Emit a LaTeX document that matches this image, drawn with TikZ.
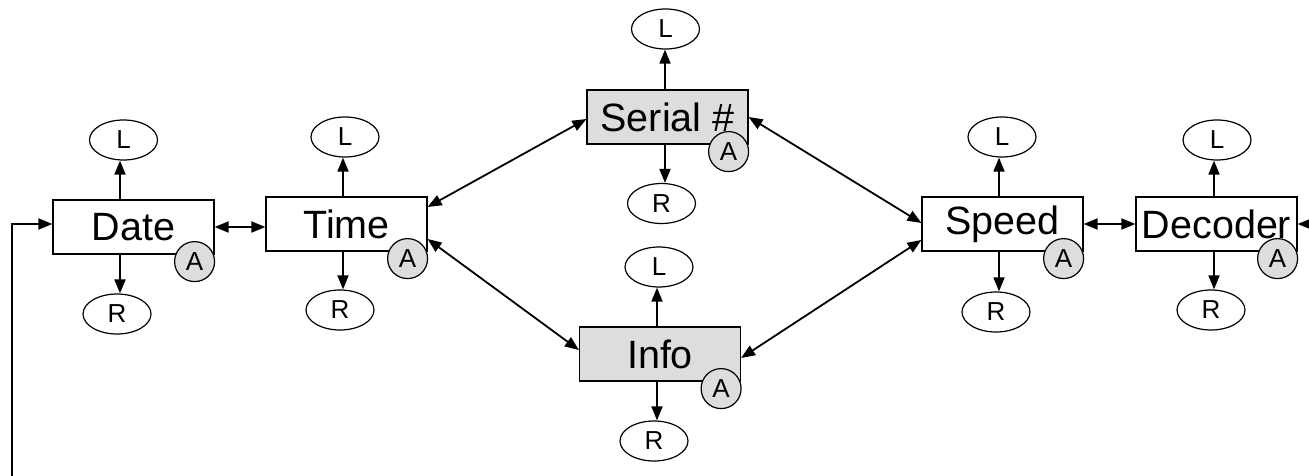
\documentclass[tikz,border=0pt]{standalone}
\usepackage{fontspec}
\setmainfont{Liberation Sans}
\usetikzlibrary{arrows.meta,shapes.geometric,calc}
\definecolor{boxgray}{HTML}{DDDDDD}
\begin{document}
\begin{tikzpicture}[x=1pt,y=-1pt,
 box/.style={draw,line width=1.2pt,minimum width=161pt,minimum height=54pt,inner sep=0pt,font=\fontsize{39.5}{46}\selectfont},
 gbox/.style={box,fill=boxgray},
 lr/.style={draw,ellipse,line width=1.2pt,minimum width=68pt,minimum height=40pt,inner sep=0pt,font=\fontsize{26}{30}\selectfont},
 acirc/.style={draw,circle,fill=boxgray,line width=1.2pt,minimum size=40pt,inner sep=0pt,font=\fontsize{26}{30}\selectfont},
 arr/.style={line width=1.8pt,-{Triangle[length=14pt,width=11pt]}},
 darr/.style={line width=1.8pt,{Triangle[length=14pt,width=11pt]}-{Triangle[length=14pt,width=11pt]}}]
\useasboundingbox (0,0) rectangle (1309,476);
% boxes
\node[box]  (date)   at (133.5,227) {Date};
\node[box]  (time)   at (346.5,224) {Time};
\node[gbox] (serial) at (667.5,117) {Serial \#};
\node[gbox] (info)   at (660,354)   {Info};
\node[box]  (speed)  at (1002.5,224) {Speed};
\node[box]  (dec)    at (1216.5,224) {Decoder};
% L / R ellipses
\node[lr] (L-date)   at (123.5,140) {L};
\node[lr] (R-date)   at (117,314)   {R};
\node[lr] (L-time)   at (345,137)   {L};
\node[lr] (R-time)   at (340,310)   {R};
\node[lr] (L-serial) at (665.5,29)  {L};
\node[lr] (R-serial) at (661.5,203.5) {R};
\node[lr] (L-info)   at (659,267)   {L};
\node[lr] (R-info)   at (654,441)   {R};
\node[lr] (L-speed)  at (1002,137)  {L};
\node[lr] (R-speed)  at (996,312)   {R};
\node[lr] (L-dec)    at (1217,140)  {L};
\node[lr] (R-dec)    at (1211,310)  {R};
% vertical arrows
\foreach \n/\o in {date/-13.5,time/-3.5,serial/-2.5,info/-3,speed/-3.5,dec/-2.5}{
  \draw[arr] ([xshift=\o pt]\n.north) -- ([xshift=\o pt]\n.north |- L-\n.south);
  \draw[arr] ([xshift=\o pt]\n.south) -- ([xshift=\o pt]\n.south |- R-\n.north);
}
% horizontal / diagonal connectors
\draw[darr] (date.east) -- (date.east -| time.west);
\draw[darr] ([yshift=17pt]time.east) -- ([yshift=-2pt]serial.west);
\draw[darr] ([yshift=-15pt]time.east) -- ([yshift=4pt]info.west);
\draw[darr] (serial.east) -- ([yshift=1pt]speed.west);
\draw[darr] ([yshift=-4pt]info.east) -- ([yshift=-16pt]speed.west);
\draw[darr] (speed.east) -- (speed.east -| dec.west);
% loop ends
\coordinate (lb) at (12,476);
\coordinate (rb) at (1309,224);
\draw[arr] (lb) |- ([yshift=3pt]date.west);
\draw[arr] (rb) -- (dec.east);
% A circles
\foreach \n in {date,time,serial,info,speed,dec}{
  \node[acirc] (A-\n) at ([shift={(-20,7)}]\n.south east) {A};
}
\end{tikzpicture}
\end{document}
